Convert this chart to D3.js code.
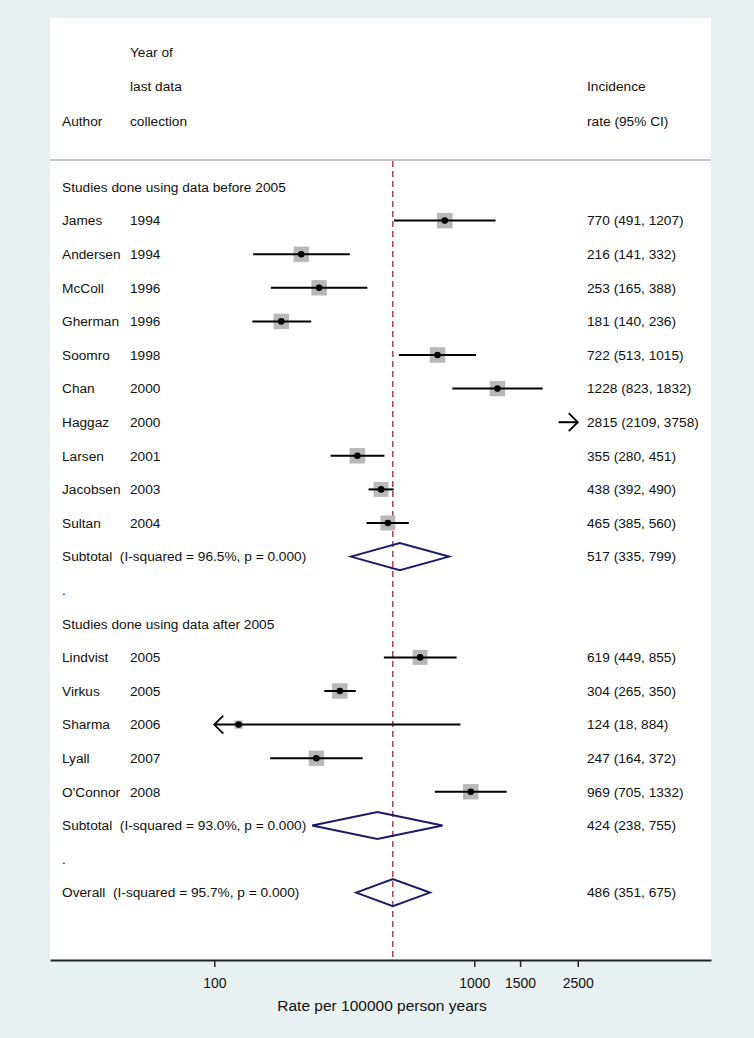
<!DOCTYPE html>
<html><head><meta charset="utf-8">
<script src="https://cdn.jsdelivr.net/npm/d3@7"></script>
<style>body{margin:0;background:#e8f0f2;} svg{display:block;font-family:"Liberation Sans",Arial,sans-serif;} text{white-space:pre;}</style>
</head><body>
<script>
// ---- data ----
const authors = ["James","Andersen","McColl","Gherman","Soomro","Chan","Haggaz","Larsen","Jacobsen","Sultan",
                 "Lindvist","Virkus","Sharma","Lyall","O'Connor"];
const years   = [1994,1994,1996,1996,1998,2000,2000,2001,2003,2004, 2005,2005,2006,2007,2008];
const rates   = [770,216,253,181,722,1228,2815,355,438,465, 619,304,124,247,969];
const lowers  = [491,141,165,140,513,823,2109,280,392,385, 449,265,18,164,705];
const uppers  = [1207,332,388,236,1015,1832,3758,451,490,560, 855,350,884,372,1332];
const weights = [7.0,6.9,6.9,7.0,7.0,6.9,6.9,7.0,6.5,6.5, 6.5,7.0,2.0,6.9,6.9];
const groups  = [0,0,0,0,0,0,0,0,0,0, 1,1,1,1,1];
const groupTitles = ["Studies done using data before 2005","Studies done using data after 2005"];
const pooledLabels = ["Subtotal  (I-squared = 96.5%, p = 0.000)","Subtotal  (I-squared = 93.0%, p = 0.000)","Overall  (I-squared = 95.7%, p = 0.000)"];
const pooledRates  = [517,424,486];
const pooledLowers = [335,238,351];
const pooledUppers = [799,755,675];
const headerCol1 = ["","","Author"];
const headerCol2 = ["Year of","last data","collection"];
const headerCol3 = ["","Incidence","rate (95% CI)"];
const tickValues = [100,1000,1500,2500];
const clipMin = 100, clipMax = 2500;
const axisTitle = "Rate per 100000 person years";

// ---- layout ----
const W = 754, H = 1038;
const panel = {x0:50, x1:711, y0:18, y1:960};
const svg = d3.select("body").append("svg").attr("width",W).attr("height",H);
svg.append("rect").attr("width",W).attr("height",H).attr("fill","#e8f0f2");
svg.append("rect").attr("x",panel.x0).attr("y",panel.y0).attr("width",panel.x1-panel.x0).attr("height",panel.y1-panel.y0).attr("fill","#fff");

const xBase = d3.scaleLog().domain([100,1000]).range([214.3,474.3]);
const x = d3.scaleLog().domain([xBase.invert(panel.x0), xBase.invert(panel.x1)]).range([panel.x0, panel.x1]);

// build row table
const rows = [];
[0,1].forEach(g=>{
  rows.push({type:"title", text:groupTitles[g]});
  authors.forEach((a,i)=>{ if(groups[i]===g) rows.push({type:"study", i}); });
  rows.push({type:"pooled", p:g});
  rows.push({type:"dot"});
});
rows.push({type:"pooled", p:2});
const y = d3.scaleLinear().domain([0, rows.length-1]).range([187, 892.6]);

const colA = 62, colB = 130, colC = 587;
const fs = 13.7;
function txt(xp, yp, t){
  return svg.append("text").attr("x",xp).attr("y",yp).attr("dy","0.35em")
    .attr("font-size",fs).attr("fill","#111").attr("xml:space","preserve").text(t);
}
// headers
const hy = d3.scaleLinear().domain([0,2]).range([52,121]);
headerCol1.forEach((t,k)=>{ if(t) txt(colA,hy(k),t); });
headerCol2.forEach((t,k)=>{ if(t) txt(colB,hy(k),t); });
headerCol3.forEach((t,k)=>{ if(t) txt(colC,hy(k),t); });
svg.append("line").attr("x1",panel.x0).attr("x2",panel.x1).attr("y1",160).attr("y2",160)
  .attr("stroke","#b0b0b0").attr("stroke-width",1.5);

// reference dashed line at overall estimate
svg.append("line").attr("x1",x(pooledRates[2])).attr("x2",x(pooledRates[2]))
  .attr("y1",161).attr("y2",panel.y1).attr("stroke","#932a3a").attr("stroke-width",1.3)
  .attr("stroke-dasharray","6,4");

const boxSide = d3.scaleSqrt().domain([0,7]).range([0,15.5]);
function ciText(r,l,u){ return `${r} (${l}, ${u})`; }

rows.forEach((r,k)=>{
  const yy = y(k);
  if(r.type==="title"){ txt(colA,yy,r.text); }
  else if(r.type==="dot"){ txt(colA,yy,"."); }
  else if(r.type==="study"){
    const i = r.i;
    txt(colA,yy,authors[i]); txt(colB,yy,years[i]);
    txt(colC,yy,ciText(rates[i],lowers[i],uppers[i]));
    const lo = Math.max(lowers[i],clipMin), hi = Math.min(uppers[i],clipMax);
    const inRange = rates[i]>=clipMin && rates[i]<=clipMax;
    if(inRange){
      const s = boxSide(weights[i]);
      svg.append("rect").attr("x",x(rates[i])-s/2).attr("y",yy-s/2).attr("width",s).attr("height",s).attr("fill","#b8b8b8");
    }
    svg.append("line").attr("x1",x(lo)).attr("x2",x(hi)).attr("y1",yy).attr("y2",yy)
      .attr("stroke","#000").attr("stroke-width",2);
    const ah = 9;
    if(uppers[i]>clipMax){
      const xe = x(clipMax);
      svg.append("path").attr("d",`M${xe-ah},${yy-ah} L${xe},${yy} L${xe-ah},${yy+ah}`)
        .attr("fill","none").attr("stroke","#000").attr("stroke-width",1.8);
    }
    if(lowers[i]<clipMin){
      const xs = x(clipMin);
      svg.append("path").attr("d",`M${xs+ah},${yy-ah} L${xs},${yy} L${xs+ah},${yy+ah}`)
        .attr("fill","none").attr("stroke","#000").attr("stroke-width",1.8);
    }
    if(inRange){
      svg.append("circle").attr("cx",x(rates[i])).attr("cy",yy).attr("r",3.3).attr("fill","#000");
    }
  }
  else if(r.type==="pooled"){
    const p = r.p;
    txt(colA,yy,pooledLabels[p]);
    txt(colC,yy,ciText(pooledRates[p],pooledLowers[p],pooledUppers[p]));
    const h = 13.5;
    const xl = x(pooledLowers[p]), xm = x(pooledRates[p]), xr = x(pooledUppers[p]);
    svg.append("path").attr("d",`M${xl},${yy} L${xm},${yy-h} L${xr},${yy} L${xm},${yy+h} Z`)
      .attr("fill","none").attr("stroke","#1a1a6b").attr("stroke-width",2);
  }
});

// axis
const axis = d3.axisBottom(x).tickValues(tickValues).tickFormat(d3.format("d")).tickSize(7).tickSizeOuter(0);
const ag = svg.append("g").attr("transform",`translate(0,${panel.y1})`).call(axis);
ag.select(".domain").attr("stroke","#222").attr("stroke-width",2);
ag.selectAll(".tick line").attr("stroke","#222").attr("stroke-width",1.5);
ag.selectAll(".tick text").attr("font-size",14).attr("fill","#111").attr("dy","1.25em")
  .attr("font-family","Liberation Sans, Arial, sans-serif");
svg.append("text").attr("x",382).attr("y",1006).attr("dy","0.35em").attr("text-anchor","middle")
  .attr("font-size",15.5).attr("fill","#111").text(axisTitle);
</script>
</body></html>
